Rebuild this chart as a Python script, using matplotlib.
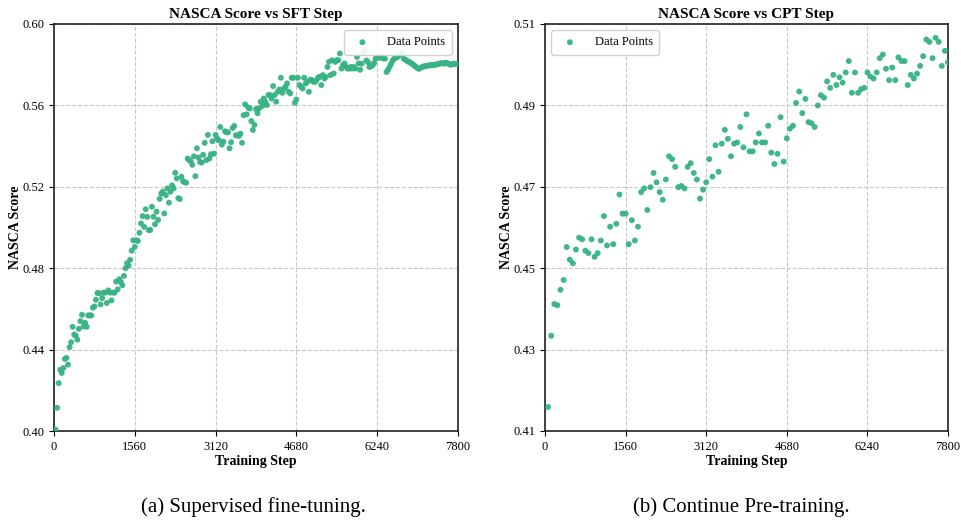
import numpy as np
import matplotlib
matplotlib.use("Agg")
import matplotlib.pyplot as plt

plt.rcParams['font.family'] = ['Liberation Serif', 'DejaVu Serif']
plt.rcParams['mathtext.fontset'] = 'stix'

# ---------------- data ----------------
sft_steps = np.arange(30, 7801, 30)
sft_scores = [
    0.4007, 0.4114, 0.4235, 0.4301, 0.4285, 0.4309, 0.4354, 0.4359, 0.4326, 0.4412,
    0.4436, 0.4512, 0.4474, 0.4469, 0.4449, 0.4502, 0.4540, 0.4571, 0.4514, 0.4532,
    0.4512, 0.4568, 0.4568, 0.4568, 0.4606, 0.4612, 0.4645, 0.4678, 0.4677, 0.4622,
    0.4653, 0.4680, 0.4680, 0.4629, 0.4691, 0.4680, 0.4642, 0.4680, 0.4680, 0.4734,
    0.4696, 0.4746, 0.4733, 0.4716, 0.4762, 0.4800, 0.4825, 0.4812, 0.4841, 0.4886,
    0.4937, 0.4905, 0.4937, 0.4934, 0.4974, 0.5020, 0.5056, 0.5003, 0.5090, 0.5052,
    0.4987, 0.4988, 0.5102, 0.5053, 0.5016, 0.5078, 0.5037, 0.5141, 0.5167, 0.5176,
    0.5069, 0.5159, 0.5192, 0.5122, 0.5176, 0.5207, 0.5192, 0.5269, 0.5241, 0.5144,
    0.5140, 0.5249, 0.5228, 0.5223, 0.5220, 0.5339, 0.5331, 0.5326, 0.5308, 0.5350,
    0.5252, 0.5389, 0.5344, 0.5322, 0.5319, 0.5357, 0.5416, 0.5331, 0.5455, 0.5339,
    0.5360, 0.5424, 0.5363, 0.5455, 0.5437, 0.5429, 0.5494, 0.5407, 0.5422, 0.5473,
    0.5468, 0.5468, 0.5389, 0.5419, 0.5489, 0.5499, 0.5453, 0.5453, 0.5450, 0.5461,
    0.5416, 0.5552, 0.5605, 0.5556, 0.5590, 0.5585, 0.5523, 0.5479, 0.5504, 0.5582,
    0.5561, 0.5585, 0.5618, 0.5597, 0.5634, 0.5618, 0.5602, 0.5651, 0.5651, 0.5634,
    0.5695, 0.5651, 0.5618, 0.5667, 0.5678, 0.5736, 0.5662, 0.5683, 0.5691, 0.5708,
    0.5667, 0.5659, 0.5736, 0.5736, 0.5613, 0.5629, 0.5736, 0.5700, 0.5691, 0.5683,
    0.5736, 0.5708, 0.5716, 0.5667, 0.5727, 0.5724, 0.5716, 0.5716, 0.5724, 0.5737,
    0.5740, 0.5700, 0.5749, 0.5732, 0.5740, 0.5789, 0.5814, 0.5749, 0.5822, 0.5757,
    0.5814, 0.5822, 0.5822, 0.5855, 0.5781, 0.5798, 0.5806, 0.5789, 0.5781, 0.5781,
    0.5789, 0.5781, 0.5789, 0.5781, 0.5838, 0.5806, 0.5775, 0.5805, 0.5859, 0.5867,
    0.5821, 0.5813, 0.5789, 0.5792, 0.5797, 0.5808, 0.5830, 0.5838, 0.5834, 0.5838,
    0.5834, 0.5830, 0.5830, 0.5764, 0.5775, 0.5789, 0.5805, 0.5821, 0.5830, 0.5834,
    0.5838, 0.5846, 0.5854, 0.5860, 0.5830, 0.5825, 0.5820, 0.5815, 0.5811, 0.5807,
    0.5802, 0.5795, 0.5789, 0.5782, 0.5780, 0.5785, 0.5789, 0.5792, 0.5792, 0.5795,
    0.5795, 0.5798, 0.5797, 0.5800, 0.5798, 0.5802, 0.5803, 0.5805, 0.5807, 0.5807,
    0.5805, 0.5810, 0.5808, 0.5803, 0.5800, 0.5802, 0.5805, 0.5803, 0.5805, 0.5802,
]

cpt_steps = np.arange(60, 7801, 60)
cpt_scores = [
    0.4159, 0.4334, 0.4412, 0.4409, 0.4447, 0.4471, 0.4552, 0.4521, 0.4512, 0.4546,
    0.4575, 0.4571, 0.4543, 0.4537, 0.4571, 0.4528, 0.4537, 0.4568, 0.4628, 0.4556,
    0.4602, 0.4559, 0.4609, 0.4681, 0.4634, 0.4634, 0.4559, 0.4618, 0.4568, 0.4602,
    0.4687, 0.4696, 0.4643, 0.4699, 0.4734, 0.4711, 0.4687, 0.4668, 0.4718, 0.4775,
    0.4768, 0.4749, 0.4699, 0.4702, 0.4696, 0.4749, 0.4758, 0.4734, 0.4718, 0.4671,
    0.4693, 0.4711, 0.4768, 0.4725, 0.4802, 0.4737, 0.4806, 0.4840, 0.4818, 0.4775,
    0.4806, 0.4809, 0.4847, 0.4797, 0.4878, 0.4787, 0.4787, 0.4809, 0.4831, 0.4809,
    0.4809, 0.4850, 0.4784, 0.4756, 0.4781, 0.4871, 0.4762, 0.4819, 0.4843, 0.4850,
    0.4906, 0.4934, 0.4881, 0.4916, 0.4859, 0.4856, 0.4847, 0.4900, 0.4925, 0.4919,
    0.4959, 0.4943, 0.4975, 0.4950, 0.4969, 0.4956, 0.4981, 0.5009, 0.4931, 0.4981,
    0.4931, 0.4940, 0.4943, 0.4981, 0.4971, 0.4966, 0.4981, 0.5016, 0.5025, 0.4990,
    0.4962, 0.4993, 0.4962, 0.5018, 0.5009, 0.5009, 0.4950, 0.4975, 0.4966, 0.4978,
    0.4997, 0.5021, 0.5062, 0.5056, 0.5016, 0.5066, 0.5056, 0.4997, 0.5034, 0.5006,
]

x_ticks = [0, 1560, 3120, 4680, 6240, 7800]
sft_yticks = [0.40, 0.44, 0.48, 0.52, 0.56, 0.60]
cpt_yticks = [0.41, 0.43, 0.45, 0.47, 0.49, 0.51]

color = '#36b283'

fig = plt.figure(figsize=(9.61, 5.22), dpi=100)
ax1 = fig.add_axes([54/961, 1-431/522, 404/961, 407/522])
ax2 = fig.add_axes([545/961, 1-431/522, 403/961, 407/522])

def style(ax, steps, scores, yticks, title, loc):
    ax.scatter(steps, scores, s=18, color=color, alpha=0.95, edgecolors='none',
               label='Data Points', zorder=3)
    ax.set_xlim(0, 7800)
    ax.set_ylim(yticks[0], yticks[-1])
    ax.set_xticks(x_ticks)
    ax.set_yticks(yticks)
    ax.set_yticklabels([f"{v:.2f}" for v in yticks])
    ax.tick_params(labelsize=9, length=3.5, width=0.8)
    ax.grid(True, linestyle='--', color='#bbbbbb', linewidth=0.8, alpha=0.8)
    ax.set_axisbelow(True)
    for sp in ax.spines.values():
        sp.set_linewidth(1.2)
        sp.set_color('#222222')
    ax.set_title(title, fontsize=11, fontweight='bold', pad=4)
    ax.set_xlabel('Training Step', fontsize=10, fontweight='bold', labelpad=2)
    ax.set_ylabel('NASCA Score', fontsize=10, fontweight='bold', labelpad=0)
    ax.legend(loc=loc, fontsize=9, frameon=True, framealpha=0.9, edgecolor='#cccccc',
              handletextpad=1.0, borderpad=0.5)

style(ax1, sft_steps, sft_scores, sft_yticks, 'NASCA Score vs SFT Step', 'upper right')
style(ax2, cpt_steps, cpt_scores, cpt_yticks, 'NASCA Score vs CPT Step', 'upper left')

fig.text(253/961, 1-507/522, '(a) Supervised fine-tuning.', ha='center', va='center', fontsize=15)
fig.text(741/961, 1-507/522, '(b) Continue Pre-training.', ha='center', va='center', fontsize=15)

fig.savefig('out.png', dpi=100)
